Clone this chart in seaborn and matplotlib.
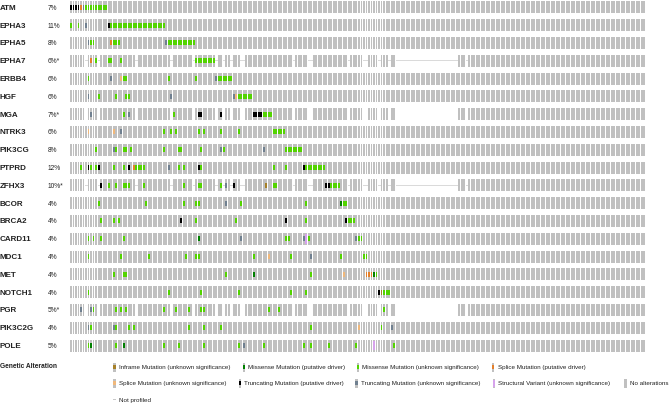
import matplotlib
matplotlib.use("Agg")
import matplotlib.pyplot as plt
from matplotlib.patches import Rectangle
import seaborn as sns

# genes in the oncoprint, top to bottom
genes = ["ATM", "EPHA3", "EPHA5", "EPHA7", "ERBB4", "HGF", "MGA", "NTRK3", "PIK3CG", "PTPRD",
         "ZFHX3", "BCOR", "BRCA2", "CARD11", "MDC1", "MET", "NOTCH1", "PGR", "PIK3C2G", "POLE"]
pcts = ["7%", "11%", "8%", "6%*", "6%", "6%", "7%*", "6%", "8%", "12%",
        "10%*", "4%", "4%", "4%", "4%", "4%", "4%", "5%*", "4%", "5%"]
n_samples = 230

# genes not profiled in every sample, and the samples they miss
partial = ["EPHA7", "MGA", "ZFHX3", "PGR"]
not_profiled = [6, 11, 26, 40, 49, 58, 61, 64, 68, 69, 89, 95, 96, 111, 117, 118, 123, 127,
                130, 131, 132, 133, 134, 135, 136, 137, 138, 139, 140, 141, 142, 143, 144,
                145, 146, 147, 148, 149, 150, 151, 152, 153, 154, 158]

# alterations: (first sample, run length, type)
# T trunc driver, U trunc vus, M missense vus, D missense driver,
# P splice driver, S splice vus, I inframe vus, V structural variant
atm = [(0, 4, "T"), (4, 1, "P"), (5, 1, "U"), (6, 9, "M")]
epha3 = [(0, 1, "M"), (3, 1, "M"), (6, 1, "U"), (15, 1, "T"), (16, 22, "M")]
epha5 = [(7, 1, "U"), (8, 2, "M"), (16, 1, "P"), (17, 3, "M"), (38, 1, "U"), (39, 11, "M")]
epha7 = [(8, 1, "P"), (10, 1, "M"), (15, 2, "M"), (20, 1, "M"), (50, 8, "M")]
erbb4 = [(7, 1, "M"), (16, 1, "U"), (20, 1, "S"), (21, 2, "M"), (39, 1, "M"), (50, 1, "M"),
         (58, 1, "U"), (59, 6, "M")]
hgf = [(7, 1, "U"), (11, 1, "M"), (18, 1, "M"), (22, 2, "M"), (40, 1, "U"), (65, 1, "U"),
       (66, 1, "S"), (67, 6, "M")]
mga = [(8, 1, "U"), (21, 1, "M"), (23, 1, "U"), (41, 1, "M"), (51, 2, "T"), (60, 1, "T"),
       (73, 4, "T"), (77, 4, "M")]
ntrk3 = [(7, 1, "S"), (17, 1, "S"), (20, 1, "U"), (37, 1, "M"), (40, 1, "M"), (42, 1, "M"),
         (51, 1, "M"), (53, 1, "M"), (60, 1, "M"), (67, 1, "M"), (81, 5, "M")]
pik3cg = [(10, 1, "M"), (17, 1, "U"), (18, 1, "M"), (21, 2, "M"), (24, 1, "M"), (37, 1, "M"),
          (43, 2, "M"), (52, 1, "M"), (60, 1, "U"), (61, 1, "M"), (77, 1, "U"), (86, 7, "M")]
ptprd = [(4, 1, "M"), (7, 1, "T"), (8, 1, "M"), (10, 1, "M"), (11, 1, "T"), (17, 1, "M"),
         (21, 1, "M"), (23, 1, "T"), (25, 1, "P"), (26, 4, "M"), (39, 1, "U"), (43, 1, "M"),
         (45, 1, "M"), (51, 1, "T"), (52, 1, "M"), (81, 1, "M"), (86, 1, "M"), (93, 1, "T"),
         (94, 8, "M")]
zfhx3 = [(12, 1, "T"), (15, 1, "M"), (18, 1, "M"), (21, 3, "M"), (29, 1, "M"), (45, 1, "M"),
         (51, 2, "M"), (60, 1, "M"), (62, 1, "U"), (65, 1, "T"), (78, 1, "I"), (81, 1, "M"),
         (82, 1, "M"), (102, 2, "T"), (104, 4, "M")]
bcor = [(11, 1, "M"), (30, 1, "M"), (45, 1, "M"), (50, 2, "M"), (62, 1, "U"), (68, 1, "M"),
        (94, 1, "M"), (108, 1, "D"), (109, 2, "M")]
brca2 = [(12, 1, "M"), (17, 1, "M"), (19, 1, "M"), (44, 1, "T"), (50, 1, "M"), (66, 1, "M"),
         (86, 1, "T"), (94, 1, "M"), (110, 1, "T"), (111, 3, "M")]
card11 = [(7, 1, "M"), (9, 1, "M"), (12, 1, "M"), (21, 1, "M"), (51, 1, "D"), (68, 1, "U"),
          (86, 1, "M"), (87, 1, "M"), (93, 1, "U"), (94, 1, "V"), (95, 1, "M"), (114, 1, "U"),
          (115, 2, "M")]
mdc1 = [(7, 1, "M"), (20, 1, "M"), (31, 1, "M"), (46, 1, "M"), (50, 2, "M"), (73, 1, "M"),
        (79, 1, "S"), (88, 1, "M"), (96, 1, "U"), (108, 1, "M"), (117, 2, "M")]
met = [(17, 1, "M"), (21, 2, "M"), (62, 1, "M"), (73, 1, "D"), (96, 1, "M"), (109, 1, "S"),
       (118, 3, "P"), (121, 1, "D"), (122, 1, "M")]
notch1 = [(7, 1, "M"), (39, 1, "M"), (52, 1, "M"), (67, 1, "M"), (88, 1, "M"), (94, 1, "M"),
          (123, 1, "T"), (124, 1, "I"), (125, 3, "M")]
pgr = [(4, 1, "U"), (8, 1, "U"), (9, 1, "M"), (18, 1, "M"), (20, 1, "M"), (22, 1, "M"),
       (37, 1, "M"), (42, 1, "M"), (47, 1, "M"), (52, 2, "M"), (79, 1, "M"), (83, 1, "M"),
       (125, 1, "M")]
pik3c2g = [(7, 1, "U"), (8, 1, "M"), (17, 1, "U"), (18, 1, "M"), (23, 1, "M"), (25, 1, "M"),
           (47, 1, "M"), (53, 1, "M"), (60, 1, "M"), (96, 1, "M"), (115, 1, "S"), (124, 1, "M"),
           (128, 1, "U")]
pole = [(7, 1, "M"), (8, 1, "D"), (18, 1, "M"), (21, 1, "D"), (37, 1, "M"), (43, 1, "M"),
        (53, 1, "M"), (67, 1, "M"), (69, 1, "U"), (77, 1, "M"), (93, 1, "M"), (96, 1, "M"),
        (103, 1, "M"), (114, 1, "M"), (121, 1, "V"), (129, 1, "M")]

tracks = [atm, epha3, epha5, epha7, erbb4, hgf, mga, ntrk3, pik3cg, ptprd,
          zfhx3, bcor, brca2, card11, mdc1, met, notch1, pgr, pik3c2g, pole]

colors = {"I": "#a68028", "D": "#008000", "M": "#53d400", "P": "#e5802b", "S": "#f0b87b",
          "T": "#000000", "U": "#708090", "V": "#d6a3ec"}
grey = "#c0c0c0"

legend_labels = [["Inframe Mutation (unknown significance)", "Missense Mutation (putative driver)",
                  "Missense Mutation (unknown significance)", "Splice Mutation (putative driver)"],
                 ["Splice Mutation (unknown significance)", "Truncating Mutation (putative driver)",
                  "Truncating Mutation (unknown significance)", "Structural Variant (unknown significance)",
                  "No alterations"],
                 ["Not profiled"]]
legend_codes = [["I", "D", "M", "P"], ["S", "T", "U", "V", None], ["NP"]]
legend_x = [[113, 242.5, 356.5, 491.5], [113, 238.5, 355, 492.5, 624], [113]]

sns.set_theme(style="white")
plt.rcParams["font.family"] = ["Liberation Sans", "DejaVu Sans"]

W, H = 669, 406
left, right = 70, 646
top, pitch = 8.3, 17.8
bar_h = 12 / pitch
mut_h = 0.42 * bar_h

fig = plt.figure(figsize=(W / 100, H / 100), dpi=100)
ax = fig.add_axes([left / W, 0, (right - left) / W, 1])
ax.set_xlim(0, n_samples)
ax.set_ylim((H - top) / pitch, -top / pitch)
ax.axis("off")

for i, gene in enumerate(genes):
    missing = not_profiled if gene in partial else []
    profiled = [s for s in range(n_samples) if s not in missing]
    ax.bar(profiled, bar_h, bottom=i - bar_h / 2, width=0.78, align="edge", color=grey, linewidth=0)
    if missing:
        ax.bar(missing, 0.04, bottom=i - 0.02, width=1.0, align="edge", color="#dadada", linewidth=0)
    for start, run, code in tracks[i]:
        cols = list(range(start, start + run))
        h = bar_h * 0.8 if code == "V" else mut_h
        ax.bar(cols, h, bottom=i - h / 2, width=0.78, align="edge", color=colors[code], linewidth=0)

# labels and legend in figure pixels
lab = fig.add_axes([0, 0, 1, 1], facecolor="none")
lab.set_xlim(0, W)
lab.set_ylim(H, 0)
lab.axis("off")
for i, gene in enumerate(genes):
    y = top + pitch * i
    lab.text(0, y, gene, fontsize=5.8, fontweight="bold", va="center", ha="left", color="#222222")
    lab.text(47.5, y, pcts[i], fontsize=4.8, va="center", ha="left", color="#222222")

lab.text(0, 367, "Genetic Alteration", fontsize=4.8, fontweight="bold", va="center", ha="left", color="#222222")
for r, row_y in enumerate([368, 384, 400.5]):
    for label, code, x in zip(legend_labels[r], legend_codes[r], legend_x[r]):
        if code == "NP":
            lab.add_patch(Rectangle((x, row_y - 0.3), 3, 0.6, color="#c8c8c8", linewidth=0))
        else:
            lab.add_patch(Rectangle((x, row_y - 4.5), 2.7, 9, color=grey, linewidth=0))
            if code is not None:
                h = 7 if code == "V" else 3.6
                lab.add_patch(Rectangle((x, row_y - h / 2), 2.7, h, color=colors[code], linewidth=0))
        lab.text(x + 6, row_y, label, fontsize=4.5, va="center", ha="left", color="#222222")

fig.savefig("out.png", dpi=100)
